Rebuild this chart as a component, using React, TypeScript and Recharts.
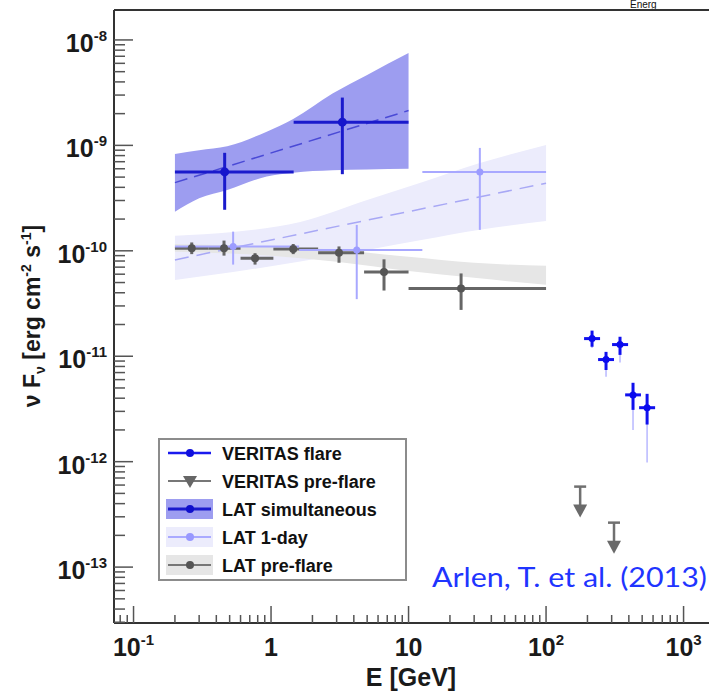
import React from 'react'
import {
  ComposedChart,
  XAxis,
  YAxis,
  Area,
  Line,
  Scatter,
  ErrorBar,
  Legend,
  ReferenceLine,
  Customized,
} from 'recharts'

const FONT = '"Liberation Sans", Arial, Helvetica, sans-serif'

// axis ranges (GeV, erg cm^-2 s^-1)
const X_MIN = 0.0721
const X_MAX = 1531
const Y_MIN = 2.95e-14
const Y_MAX = 1.923e-8

const xMajor = [0.1, 1, 10, 100, 1000]
const xDecades = [0.01, 0.1, 1, 10, 100, 1000]
const yMajor = [1e-13, 1e-12, 1e-11, 1e-10, 1e-9, 1e-8]
const yDecades = [1e-14, 1e-13, 1e-12, 1e-11, 1e-10, 1e-9]
const minorSteps = [2, 3, 4, 5, 6, 7, 8, 9]

// LAT pre-flare (grey points)
const latPreE = [0.265, 0.455, 0.765, 1.45, 3.12, 6.63, 24.1]
const latPreELo = [0.2, 0.35, 0.6, 1.04, 2.2, 4.75, 10]
const latPreEHi = [0.35, 0.6, 1.04, 2.2, 4.75, 10, 100]
const latPreFlux = [1.06e-10, 1.06e-10, 8.5e-11, 1.04e-10, 9.6e-11, 6.3e-11, 4.4e-11]
const latPreFluxLo = [9.3e-11, 9.0e-11, 7.4e-11, 9.3e-11, 7.7e-11, 4.2e-11, 2.75e-11]
const latPreFluxHi = [1.2e-10, 1.25e-10, 9.5e-11, 1.16e-10, 1.1e-10, 8.3e-11, 6.1e-11]

// LAT 1-day (light blue points)
const lat1dE = [0.53, 4.2, 33]
const lat1dELo = [0.2, 1.6, 12.6]
const lat1dEHi = [1.6, 12.6, 100]
const lat1dFlux = [1.1e-10, 1.02e-10, 5.6e-10]
const lat1dFluxLo = [7.4e-11, 3.48e-11, 1.58e-10]
const lat1dFluxHi = [1.52e-10, 1.76e-10, 9.46e-10]

// LAT simultaneous (dark blue points)
const latSimE = [0.46, 3.3]
const latSimELo = [0.2, 1.46]
const latSimEHi = [1.46, 10]
const latSimFlux = [5.6e-10, 1.66e-9]
const latSimFluxLo = [2.45e-10, 5.33e-10]
const latSimFluxHi = [8.5e-10, 2.84e-9]

// VERITAS flare
const verE = [216, 273, 345, 429, 543]
const verELo = [189, 239, 302, 376, 475]
const verEHi = [247, 312, 395, 490, 621]
const verFlux = [1.47e-11, 9.3e-12, 1.29e-11, 4.3e-12, 3.25e-12]
const verFluxLo = [1.23e-11, 7.4e-12, 1.03e-11, 3.1e-12, 2.25e-12]
const verFluxHi = [1.75e-11, 1.1e-11, 1.53e-11, 5.6e-12, 4.4e-12]
const verFluxSysLo = [1.2e-11, 6.4e-12, 8.7e-12, 2.0e-12, 9.8e-13]

// VERITAS pre-flare upper limits
const verUlE = [177, 312]
const verUlFlux = [5.8e-13, 2.64e-13]

// butterflies
const simBandE = [0.2, 0.3, 0.48, 0.93, 1.45, 2.8, 5, 10]
const simBandLo = [2.35e-10, 3.15e-10, 3.78e-10, 5.06e-10, 5.5e-10, 5.8e-10, 5.9e-10, 6.0e-10]
const simBandHi = [8.3e-10, 9.0e-10, 9.8e-10, 1.35e-9, 1.78e-9, 3.1e-9, 4.66e-9, 7.5e-9]
const simFitE = [0.2, 10]
const simFitFlux = [4.43e-10, 2.14e-9]

const dayBandE = [0.2, 0.53, 1.63, 5, 12.7, 33, 100]
const dayBandLo = [5.3e-11, 6.3e-11, 7.9e-11, 1.02e-10, 1.27e-10, 1.58e-10, 1.92e-10]
const dayBandHi = [1.39e-10, 1.51e-10, 1.88e-10, 3.04e-10, 4.5e-10, 6.8e-10, 1.01e-9]
const dayFitE = [0.2, 100]
const dayFitFlux = [8.2e-11, 4.38e-10]

const preBandE = [0.2, 1, 3, 10, 30, 100]
const preBandLo = [9.8e-11, 8.97e-11, 7.87e-11, 6.45e-11, 5.54e-11, 4.76e-11]
const preBandHi = [1.16e-10, 1.09e-10, 1.02e-10, 8.77e-11, 7.69e-11, 7.2e-11]

const points = (e: number[], elo: number[], ehi: number[], f: number[], flo: number[], fhi: number[]) =>
  e.map((v, i) => ({ e: v, elo: elo[i], ehi: ehi[i], f: f[i], flo: flo[i], fhi: fhi[i] }))
const band = (e: number[], lo: number[], hi: number[]) =>
  e.map((v, i) => ({ e: v, lo: lo[i], hi: hi[i] }))
const curve = (e: number[], f: number[]) => e.map((v, i) => ({ e: v, f: f[i] }))

const latPre = points(latPreE, latPreELo, latPreEHi, latPreFlux, latPreFluxLo, latPreFluxHi)
const lat1d = points(lat1dE, lat1dELo, lat1dEHi, lat1dFlux, lat1dFluxLo, lat1dFluxHi)
const latSim = points(latSimE, latSimELo, latSimEHi, latSimFlux, latSimFluxLo, latSimFluxHi)
const verFlare = points(verE, verELo, verEHi, verFlux, verFluxLo, verFluxHi)
const verSys = verE.map((v, i) => ({ e: v, f: verFlux[i], flo: verFluxSysLo[i] }))
const verUl = curve(verUlE, verUlFlux)

const withMinors = (major: number[], decades: number[], lo: number, hi: number) =>
  [...major, ...decades.flatMap((d) => minorSteps.map((m) => m * d))].filter((v) => v >= lo && v <= hi)
const xTicks = withMinors(xMajor, xDecades, X_MIN, X_MAX)
const yTicks = withMinors(yMajor, yDecades, Y_MIN, Y_MAX)

const isMajor = (v: number) => Math.abs(Math.log10(v) - Math.round(Math.log10(v))) < 1e-6
const xErr = (d: any) => [d.e - d.elo, d.ehi - d.e]
const yErr = (d: any) => [d.f - d.flo, d.fhi - d.f]

function YTick(props: any) {
  const { x, y, payload } = props
  const major = isMajor(payload.value)
  const exp = Math.round(Math.log10(payload.value))
  return (
    <g>
      <line x1={x} x2={x + (major ? 19 : 11)} y1={y} y2={y} stroke="#555" strokeWidth={1.5} />
      {major && (
        <text x={x - 7} y={y + 12} textAnchor="end" fontFamily={FONT} fontWeight="bold" fontSize={25} fill="#1a1a1a">
          10<tspan dy={-11} fontSize={15}>{exp}</tspan>
        </text>
      )}
    </g>
  )
}

function XTick(props: any) {
  const { x, y, payload } = props
  const major = isMajor(payload.value)
  const exp = Math.round(Math.log10(payload.value))
  return (
    <g>
      <line x1={x} x2={x} y1={y} y2={y - (major ? 17 : 8)} stroke="#555" strokeWidth={1.5} />
      {major && (
        <text x={x} y={y + 33} textAnchor="middle" fontFamily={FONT} fontWeight="bold" fontSize={25} fill="#1a1a1a">
          {exp === 0 ? '1' : '10'}
          {exp !== 0 && exp !== 1 && <tspan dy={-11} fontSize={15}>{exp}</tspan>}
        </text>
      )}
    </g>
  )
}

function ULShape(props: any) {
  const { cx, cy } = props
  return (
    <g>
      <line x1={cx - 6} x2={cx + 6} y1={cy} y2={cy} stroke="#707070" strokeWidth={2.5} />
      <line x1={cx} x2={cx} y1={cy} y2={cy + 20} stroke="#707070" strokeWidth={2.5} />
      <polygon points={`${cx - 7},${cy + 18} ${cx + 7},${cy + 18} ${cx},${cy + 31}`} fill="#6a6a6a" />
    </g>
  )
}

const dot = (fill: string, r: number) => (p: any) => <circle cx={p.cx} cy={p.cy} r={r} fill={fill} />

function LegendBox() {
  const rows = [
    { label: 'VERITAS flare', line: '#1a1aee', lw: 2.5, mark: 'dot', mc: '#1010dd', patch: '' },
    { label: 'VERITAS pre-flare', line: '#777', lw: 2, mark: 'tri', mc: '#666', patch: '' },
    { label: 'LAT simultaneous', line: '#1a1acc', lw: 3, mark: 'dot', mc: '#1010cc', patch: '#9d9df0' },
    { label: 'LAT 1-day', line: '#aaaaff', lw: 2, mark: 'dot', mc: '#9999ff', patch: '#ececfc' },
    { label: 'LAT pre-flare', line: '#777', lw: 2, mark: 'dot', mc: '#555', patch: '#e6e6e6' },
  ]
  return (
    <svg width={250} height={144} style={{ display: 'block' }}>
      <rect x={1} y={1} width={247} height={141} fill="#fff" stroke="#8c8c8c" strokeWidth={2} />
      {rows.map((r, i) => {
        const cy = 15 + i * 28
        return (
          <g key={r.label}>
            {r.patch && <rect x={8} y={cy - 10} width={47} height={20} fill={r.patch} />}
            <line x1={10} x2={53} y1={cy} y2={cy} stroke={r.line} strokeWidth={r.lw} />
            {r.mark === 'dot' ? (
              <circle cx={32} cy={cy} r={4} fill={r.mc} />
            ) : (
              <polygon points={`25,${cy - 5} 39,${cy - 5} 32,${cy + 7}`} fill={r.mc} />
            )}
            <text x={64} y={cy + 6.5} fontFamily={FONT} fontWeight="bold" fontSize={18} fill="#111">
              {r.label}
            </text>
          </g>
        )
      })}
    </svg>
  )
}

function Annotations() {
  return (
    <g>
      <text
        transform="translate(40,316) rotate(-90)"
        textAnchor="middle"
        fontFamily={FONT}
        fontWeight="bold"
        fontSize={23}
        fill="#1a1a1a"
      >
        ν F<tspan dy={5} fontSize={14}>ν</tspan>
        <tspan dy={-5}> [erg cm</tspan>
        <tspan dy={-9} fontSize={14}>-2</tspan>
        <tspan dy={9}> s</tspan>
        <tspan dy={-9} fontSize={14}>-1</tspan>
        <tspan dy={9}>]</tspan>
      </text>
      <text x={411} y={686} textAnchor="middle" fontFamily={FONT} fontWeight="bold" fontSize={25} fill="#1a1a1a">
        E [GeV]
      </text>
      <text
        x={432}
        y={587}
        fontFamily="Lato, 'Open Sans', sans-serif"
        fontSize={26}
        fill="#1f35ff"
        textLength={275}
        lengthAdjust="spacingAndGlyphs"
      >
        Arlen, T. et al. (2013)
      </text>
      <text x={630} y={8} fontFamily={FONT} fontSize={10} fill="#111">
        Energ
      </text>
    </g>
  )
}

export default function App() {
  return (
    <div style={{ position: 'absolute', left: 0, top: 0, width: 709, height: 692, background: '#fff' }}>
      <ComposedChart width={709} height={692} margin={{ top: 10, right: 0, bottom: 0, left: 0 }}>
        <XAxis
          dataKey="e"
          type="number"
          scale="log"
          domain={[X_MIN, X_MAX]}
          allowDataOverflow
          ticks={xTicks}
          interval={0}
          tick={<XTick />}
          tickLine={false}
          tickSize={0}
          tickMargin={0}
          height={69}
          axisLine={{ stroke: '#333', strokeWidth: 2 }}
        />
        <YAxis
          type="number"
          scale="log"
          domain={[Y_MIN, Y_MAX]}
          allowDataOverflow
          ticks={yTicks}
          interval={0}
          tick={<YTick />}
          tickLine={false}
          tickSize={0}
          tickMargin={0}
          width={114}
          axisLine={{ stroke: '#333', strokeWidth: 2 }}
        />

        <Area
          data={band(dayBandE, dayBandLo, dayBandHi)}
          dataKey={(d: any) => [d.lo, d.hi]}
          type="monotone"
          stroke="none"
          fill="#ececfc"
          fillOpacity={1}
          isAnimationActive={false}
          legendType="none"
        />
        <Line
          data={curve(dayFitE, dayFitFlux)}
          dataKey="f"
          stroke="#a8a8f5"
          strokeWidth={1.5}
          strokeDasharray="14 8"
          dot={false}
          isAnimationActive={false}
          legendType="none"
        />
        <Area
          data={band(preBandE, preBandLo, preBandHi)}
          dataKey={(d: any) => [d.lo, d.hi]}
          type="monotone"
          stroke="none"
          fill="#e6e6e6"
          fillOpacity={1}
          isAnimationActive={false}
          legendType="none"
        />
        <Area
          data={band(simBandE, simBandLo, simBandHi)}
          dataKey={(d: any) => [d.lo, d.hi]}
          type="monotone"
          stroke="none"
          fill="#9d9df0"
          fillOpacity={1}
          isAnimationActive={false}
          legendType="none"
        />
        <Line
          data={curve(simFitE, simFitFlux)}
          dataKey="f"
          stroke="#4a4ad6"
          strokeWidth={1.5}
          strokeDasharray="13 7"
          dot={false}
          isAnimationActive={false}
          legendType="none"
        />

        <Scatter name="LAT pre-flare" data={latPre} dataKey="f" shape={dot('#555', 4)} isAnimationActive={false}>
          <ErrorBar dataKey={xErr} direction="x" width={0} stroke="#666" strokeWidth={3} />
          <ErrorBar dataKey={yErr} direction="y" width={0} stroke="#666" strokeWidth={3} />
        </Scatter>
        <Scatter name="LAT 1-day" data={lat1d} dataKey="f" shape={dot('#9c9cff', 3.5)} isAnimationActive={false}>
          <ErrorBar dataKey={xErr} direction="x" width={0} stroke="#a8a8ff" strokeWidth={2} />
          <ErrorBar dataKey={yErr} direction="y" width={0} stroke="#a8a8ff" strokeWidth={2} />
        </Scatter>
        <Scatter name="LAT simultaneous" data={latSim} dataKey="f" shape={dot('#1515cc', 4.5)} isAnimationActive={false}>
          <ErrorBar dataKey={xErr} direction="x" width={0} stroke="#1a1acc" strokeWidth={3} />
          <ErrorBar dataKey={yErr} direction="y" width={0} stroke="#1a1acc" strokeWidth={3} />
        </Scatter>

        <Scatter name="VERITAS sys" data={verSys} dataKey="f" shape={() => <g />} isAnimationActive={false} legendType="none">
          <ErrorBar dataKey={(d: any) => [d.f - d.flo, 0]} direction="y" width={0} stroke="#b8b8ff" strokeWidth={1.5} />
        </Scatter>
        <Scatter name="VERITAS flare" data={verFlare} dataKey="f" shape={dot('#0a0aee', 3.5)} isAnimationActive={false}>
          <ErrorBar dataKey={xErr} direction="x" width={0} stroke="#1010ee" strokeWidth={3} />
          <ErrorBar dataKey={yErr} direction="y" width={0} stroke="#1010ee" strokeWidth={3} />
        </Scatter>
        <Scatter name="VERITAS pre-flare" data={verUl} dataKey="f" shape={ULShape} isAnimationActive={false} />

        <ReferenceLine y={Y_MAX} stroke="#333" strokeWidth={2} />

        <Legend
          layout="horizontal"
          verticalAlign="middle"
          align="center"
          content={() => <LegendBox />}
          wrapperStyle={{ left: 158, top: 438, width: 250, height: 144 }}
        />
        <Customized component={Annotations} />
      </ComposedChart>
    </div>
  )
}
